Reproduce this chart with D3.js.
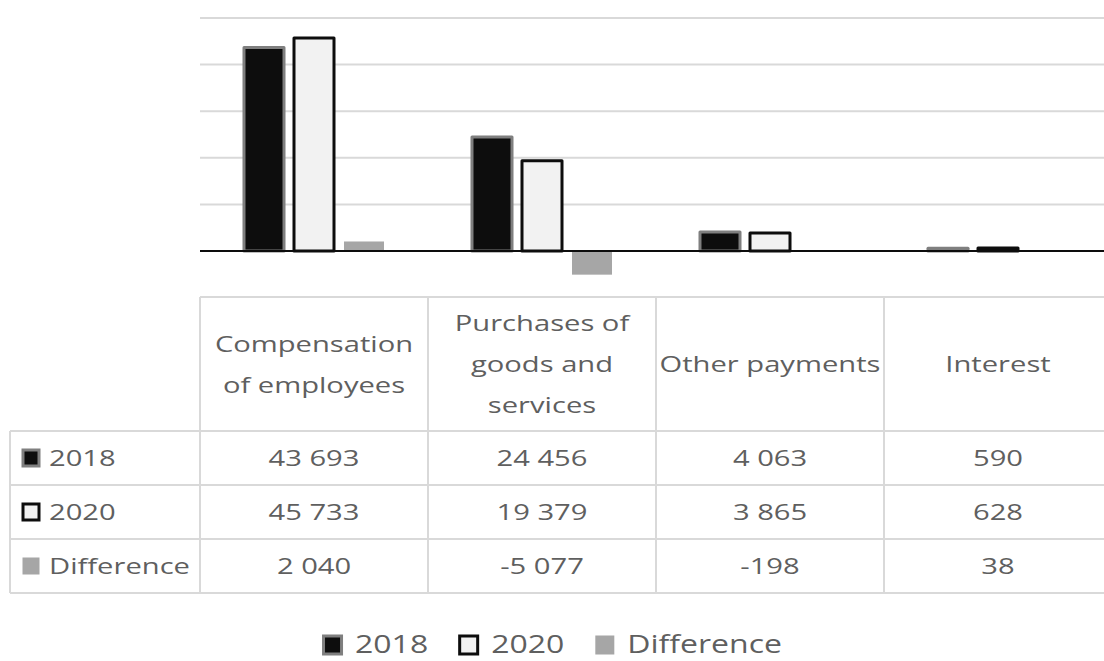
<!DOCTYPE html>
<html>
<head>
<meta charset="utf-8">
<script src="https://cdn.jsdelivr.net/npm/d3@7"></script>
<style>
  html, body { margin: 0; padding: 0; background: #ffffff; }
  svg { display: block; }
  text { font-family: "Open Sans", Lato, sans-serif; fill: #5f5f5f; }
</style>
</head>
<body>
<svg id="chart" width="1104" height="661"></svg>
<script>
// Expenditure by category, 2018 vs 2020, with the difference
const categories = ["Compensation of employees", "Purchases of goods and services", "Other payments", "Interest"];
const headerLines = [["Compensation", "of employees"], ["Purchases of", "goods and", "services"], ["Other payments"], ["Interest"]];
const seriesNames = ["2018", "2020", "Difference"];
const values2018 = [43693, 24456, 4063, 590];
const values2020 = [45733, 19379, 3865, 628];
const valuesDiff = [2040, -5077, -198, 38];
const gridTicks = [0, 10000, 20000, 30000, 40000, 50000];

const seriesValues = [values2018, values2020, valuesDiff];
const seriesStyle = {
  "2018": { fill: "#0d0d0d", stroke: "#7f7f7f", sw: 3 },
  "2020": { fill: "#f2f2f2", stroke: "#0d0d0d", sw: 3 },
  "Difference": { fill: "#a6a6a6", stroke: "none", sw: 0 }
};

const W = 1104, H = 661;
const SX = 1.29;           // horizontal text stretch
const FS = 22.6;           // table font size
const LEG_FS = 24.8;       // legend font size
const gridColor = "#d9d9d9";

const svg = d3.select("#chart");

const fmt = d3.formatLocale({ decimal: ",", thousands: "\u00a0", grouping: [3], currency: ["", ""], minus: "-" }).format(",d");

// Scales
const x0 = d3.scaleBand().domain(categories).range([200, 1112]);
const x1 = d3.scaleBand().domain(seriesNames).range([39, 189]).paddingInner(0.2).paddingOuter(0.1);
const y = d3.scaleLinear().domain([0, 50000]).range([251, 18]);

// Gridlines
svg.append("g").selectAll("line").data(gridTicks.filter(d => d > 0)).join("line")
  .attr("x1", 200).attr("x2", W)
  .attr("y1", d => y(d)).attr("y2", d => y(d))
  .attr("stroke", gridColor).attr("stroke-width", 2);

// Bars
const rows = categories.map((c, i) => ({ cat: c, vals: seriesNames.map((s, j) => ({ s, v: seriesValues[j][i] })) }));
const groups = svg.append("g").selectAll("g").data(rows).join("g")
  .attr("transform", d => `translate(${x0(d.cat)},0)`);
groups.selectAll("rect").data(d => d.vals).join("rect")
  .attr("x", d => x1(d.s))
  .attr("width", x1.bandwidth())
  .attr("y", d => y(Math.max(0, d.v)))
  .attr("height", d => Math.abs(y(d.v) - y(0)))
  .attr("fill", d => seriesStyle[d.s].fill)
  .attr("stroke", d => seriesStyle[d.s].stroke)
  .attr("stroke-width", d => seriesStyle[d.s].sw)
  .attr("stroke-linejoin", "round");

// Category axis line
svg.append("line")
  .attr("x1", 200).attr("x2", W)
  .attr("y1", y(0)).attr("y2", y(0))
  .attr("stroke", "#0d0d0d").attr("stroke-width", 2.2);

// Data table
const tHeadTop = 297, tHeadBottom = 431, rowH = 54;
const tRows = d3.scaleBand().domain(seriesNames).range([tHeadBottom, tHeadBottom + rowH * 3]);
const tg = svg.append("g");
const gridLine = (x1v, y1v, x2v, y2v) => tg.append("line")
  .attr("x1", x1v).attr("y1", y1v).attr("x2", x2v).attr("y2", y2v)
  .attr("stroke", gridColor).attr("stroke-width", 2);

gridLine(200, tHeadTop, W, tHeadTop);
[tHeadBottom, ...seriesNames.map(s => tRows(s) + rowH)].forEach(yy => gridLine(10, yy, W, yy));
gridLine(10, tHeadBottom, 10, tHeadBottom + rowH * 3);
categories.forEach(c => gridLine(x0(c), tHeadTop, x0(c), tHeadBottom + rowH * 3));

function stretchedText(parent, x, yy, str, size, anchor) {
  return parent.append("text")
    .attr("transform", `translate(${x},${yy}) scale(${SX},1)`)
    .attr("text-anchor", anchor)
    .style("font-size", size + "px")
    .text(str);
}

// Header cells
const lineGap = 41;
categories.forEach((c, i) => {
  const lines = headerLines[i];
  const cx = x0(c) + x0.bandwidth() / 2;
  const cy = (tHeadTop + tHeadBottom) / 2;
  lines.forEach((ln, k) => {
    const ly = cy + (k - (lines.length - 1) / 2) * lineGap + FS * 0.36;
    stretchedText(tg, cx, ly, ln, FS, "middle");
  });
});

// Key swatches
function swatch(parent, cx, cy, s, size) {
  const st = seriesStyle[s];
  const sz = s === "Difference" ? size - 2 : size - st.sw;
  parent.append("rect")
    .attr("x", cx - sz / 2).attr("y", cy - sz / 2)
    .attr("width", sz).attr("height", sz)
    .attr("fill", st.fill).attr("stroke", st.stroke).attr("stroke-width", st.sw);
}

// Value rows
seriesNames.forEach((s, j) => {
  const cy = tRows(s) + rowH / 2;
  swatch(tg, 31, cy, s, 19);
  stretchedText(tg, 49, cy + FS * 0.36, s, FS, "start");
  categories.forEach((c, i) => {
    stretchedText(tg, x0(c) + x0.bandwidth() / 2, cy + FS * 0.36, fmt(seriesValues[j][i]), FS, "middle");
  });
});

// Legend
const lg = svg.append("g");
const legCy = 644;
const keySize = 21, keyGap = 12, itemGap = 30;
let cursor = 0;
const items = seriesNames.map(s => {
  const t = stretchedText(lg, 0, 0, s, LEG_FS, "start");
  const w = t.node().getComputedTextLength() * SX;
  const item = { s, t, x: cursor, w };
  cursor += keySize + keyGap + w + itemGap;
  return item;
});
const total = cursor - itemGap;
const startX = W / 2 - total / 2;
items.forEach(it => {
  const kx = startX + it.x + keySize / 2;
  swatch(lg, kx, legCy + 1, it.s, keySize);
  it.t.attr("transform", `translate(${startX + it.x + keySize + keyGap},${legCy + LEG_FS * 0.36}) scale(${SX},1)`);
});
</script>
</body>
</html>
